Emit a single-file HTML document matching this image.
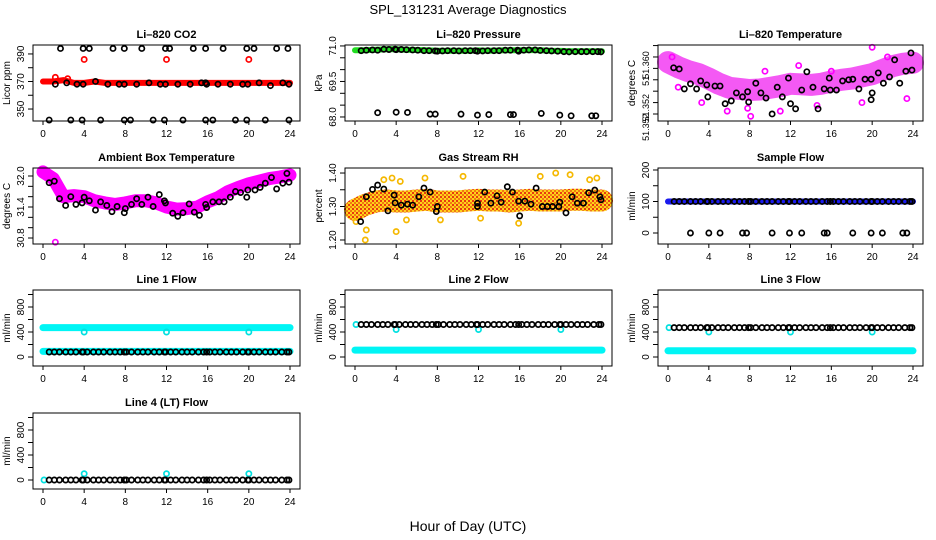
<!DOCTYPE html>
<html><head><meta charset="utf-8"><style>
html,body{margin:0;padding:0;background:#fff;}
svg{display:block;font-family:"Liberation Sans",Arial,sans-serif;}
</style></head><body>
<svg id="chart" width="936" height="540" viewBox="0 0 936 540" xmlns="http://www.w3.org/2000/svg">
<defs>
<pattern id="rhpat" width="4" height="4" patternUnits="userSpaceOnUse"><rect width="4" height="4" fill="#ffd21a"/><rect width="2" height="2" fill="#e83a10"/><rect x="2" y="2" width="2" height="2" fill="#f07a10"/></pattern>
</defs>
<text x="468" y="14" text-anchor="middle" font-size="13">SPL_131231  Average Diagnostics</text>
<text x="468" y="531" text-anchor="middle" font-size="14">Hour of Day (UTC)</text>
</svg>
<script>
// ---- data ----
const hours = [0,1,2,3,4,5,6,7,8,9,10,11,12,13,14,15,16,17,18,19,20,21,22,23,24];
const xTicks = [0,4,8,12,16,20,24];
const denseX = [0.6,1.1,1.6,2.2,2.7,3.2,3.8,3.9,4.3,4.9,5.4,5.9,6.5,7.0,7.5,7.9,8.1,8.6,9.2,9.7,10.2,10.8,11.3,11.8,11.9,12.4,12.9,13.5,14.0,14.5,15.1,15.6,15.9,16.2,16.7,17.2,17.8,18.3,18.8,19.4,19.9,20.0,20.5,21.0,21.6,22.1,22.6,23.2,23.7,23.9];

const co2Band = [370,370,371,369,369,370,369,369,369,369,369,369,369,369,369,369,369,369,369,369,369,369,369,369,369];
const co2HighX = [1.7,3.9,4.5,6.8,7.9,9.6,11.9,12.3,14.6,15.8,17.5,19.8,20.5,22.7,23.8];
const co2LowX = [0.6,2.7,3.8,5.6,7.9,8.5,10.7,11.8,13.6,15.8,16.5,18.7,19.8,21.6,23.9];
const co2MidX = [1.2,2.3,3.3,3.9,5.1,6.3,7.4,7.9,9.1,10.3,11.4,11.9,13.1,14.3,15.4,15.8,15.9,17.0,18.2,19.4,19.9,21.0,22.1,23.3,23.9];
const co2MidY = [368,369,368,368,370,368,368,368,368,369,368,368,368,368,369,369,368,368,368,368,368,369,367,369,368];
const co2RedX = [4,12,20];
const co2RedY = [386,386,386];

const presBand = [70.82,70.82,70.84,70.86,70.86,70.84,70.83,70.82,70.80,70.80,70.80,70.80,70.81,70.80,70.81,70.82,70.82,70.83,70.82,70.80,70.79,70.78,70.78,70.78,70.78];
const presMidX = [0.6,1.1,1.7,2.2,2.8,3.3,3.9,4.0,4.5,5.0,5.6,6.1,6.7,7.2,7.8,8.0,8.5,9.0,9.6,10.1,10.7,11.2,11.7,11.9,12.4,12.9,13.5,14.0,14.6,15.1,15.8,15.9,16.4,16.9,17.5,18.0,18.6,19.1,19.7,20.3,20.8,21.4,22.0,22.5,23.1,23.6,23.9];
const presMidY = [70.80,70.82,70.83,70.82,70.86,70.85,70.86,70.84,70.85,70.84,70.83,70.82,70.80,70.80,70.79,70.78,70.79,70.80,70.80,70.79,70.80,70.80,70.80,70.78,70.79,70.80,70.80,70.80,70.82,70.82,70.82,70.78,70.82,70.83,70.83,70.81,70.80,70.79,70.78,70.76,70.75,70.76,70.76,70.76,70.76,70.76,70.75];
const presLowX = [2.2,4.0,5.1,7.3,7.8,10.3,11.9,13.0,15.1,15.4,18.1,19.9,21.0,23.0,23.4];
const presLowY = [68.18,68.2,68.19,68.12,68.12,68.12,68.08,68.1,68.1,68.1,68.15,68.08,68.05,68.05,68.05];

const ltBand = [51.3591,51.3582,51.3575,51.3570,51.3562,51.3553,51.3546,51.3544,51.3542,51.3543,51.3546,51.3549,51.3553,51.3552,51.3551,51.3553,51.3557,51.3560,51.3562,51.3566,51.3570,51.3577,51.3584,51.3588,51.3590];
const ltBlackX = [0.55,1.1,1.6,2.2,2.8,3.2,3.8,3.9,4.6,5.1,5.6,6.2,6.7,7.3,7.8,7.9,8.6,9.1,9.6,10.2,10.7,11.2,11.8,12.0,12.5,13.1,13.6,14.2,14.7,15.3,15.8,15.9,16.5,17.1,17.7,18.1,18.7,19.3,19.9,19.9,20.0,20.6,21.1,21.7,22.2,22.7,23.3,23.8,23.9];
const ltBlackY = [51.3581,51.3579,51.3544,51.3553,51.3544,51.3558,51.3551,51.3530,51.3549,51.3549,51.3518,51.3523,51.3537,51.3530,51.3539,51.3521,51.3554,51.3537,51.3528,51.3500,51.3547,51.3530,51.3563,51.3518,51.3509,51.3542,51.3574,51.3547,51.3509,51.3544,51.3563,51.3542,51.3542,51.3558,51.3560,51.3561,51.3544,51.3561,51.3561,51.3525,51.3537,51.3572,51.3554,51.3565,51.3595,51.3554,51.3575,51.3607,51.3577];
const ltOutX = [0.4,1.0,3.3,5.8,7.8,8.1,9.5,11.0,12.8,14.6,16.0,19.0,20.0,21.5,23.4];
const ltOutY = [51.3600,51.3547,51.3520,51.3505,51.3510,51.3496,51.3575,51.3505,51.3585,51.3515,51.3575,51.3520,51.3617,51.3600,51.3527];

const ambBand = [32.08,31.95,31.60,31.62,31.60,31.52,31.48,31.45,31.48,31.52,31.52,31.48,31.40,31.36,31.37,31.40,31.50,31.58,31.70,31.78,31.85,31.90,31.95,31.98,32.02];
const ambBlackX = [0.6,1.1,1.6,2.2,2.7,3.2,3.8,4.0,4.5,5.1,5.6,6.2,6.7,7.2,7.9,8.0,8.6,9.1,9.6,10.2,10.7,11.3,11.8,11.9,12.6,13.1,13.6,14.2,14.7,15.2,15.8,15.9,16.5,17.1,17.6,18.2,18.7,19.2,19.8,19.9,20.6,21.1,21.6,22.2,22.7,23.3,23.7,23.9];
const ambBlackY = [31.87,31.9,31.56,31.43,31.6,31.45,31.48,31.59,31.52,31.34,31.5,31.43,31.31,31.41,31.29,31.37,31.45,31.56,31.45,31.59,31.41,31.64,31.52,31.48,31.28,31.22,31.29,31.46,31.3,31.24,31.45,31.39,31.5,31.5,31.5,31.59,31.7,31.68,31.59,31.73,31.73,31.78,31.86,31.97,31.75,31.86,32.05,31.88];
const ambOutX = [1.2];
const ambOutY = [30.72];

const rhBand = [1.29,1.305,1.315,1.318,1.315,1.315,1.318,1.32,1.315,1.315,1.315,1.318,1.32,1.318,1.318,1.315,1.318,1.32,1.318,1.318,1.318,1.32,1.32,1.318,1.318];
const rhBlackX = [0.55,1.1,1.7,2.2,2.8,3.2,3.8,3.9,4.5,5.1,5.6,6.2,6.7,7.3,7.9,8.0,11.9,11.9,12.6,13.2,13.8,14.2,14.8,15.3,15.9,16.0,16.5,17.1,17.6,18.2,18.7,19.2,19.8,19.9,20.5,21.1,21.6,22.2,22.7,23.3,23.8,23.9];
const rhBlackY = [1.255,1.329,1.351,1.364,1.352,1.287,1.334,1.311,1.304,1.307,1.304,1.329,1.355,1.343,1.285,1.30,1.31,1.30,1.343,1.31,1.332,1.313,1.359,1.343,1.316,1.272,1.316,1.307,1.355,1.30,1.30,1.30,1.30,1.313,1.281,1.329,1.31,1.31,1.341,1.349,1.329,1.32];
const rhOutX = [0.1,1.0,1.1,2.8,3.6,4.0,4.4,5.0,6.8,8.3,10.5,12.2,15.9,18.0,19.5,20.9,22.8,23.5];
const rhOutY = [1.255,1.20,1.23,1.38,1.385,1.225,1.375,1.26,1.385,1.26,1.39,1.265,1.25,1.39,1.40,1.395,1.38,1.385];

const sampBand = [100,100,100,100,100,100,100,100,100,100,100,100,100,100,100,100,100,100,100,100,100,100,100,100,100];
const sampZeroX = [2.2,4.0,5.1,7.3,7.7,10.2,11.9,13.1,15.3,15.6,18.1,19.9,21.0,23.0,23.4];

const l1Upper = [470,470,470,470,470,470,470,470,470,470,470,470,470,470,470,470,470,470,470,470,470,470,470,470,470];
const l1Lower = [90,90,90,90,90,90,90,90,90,90,90,90,90,90,90,90,90,90,90,90,90,90,90,90,90];
const l1BlackY = 80;
const l1CyanX = [4,12,20];
const l1CyanY = [400,400,400];

const l2Lower = [110,110,110,110,110,110,110,110,110,110,110,110,110,110,110,110,110,110,110,110,110,110,110,110,110];
const l2BlackY = 520;
const l2CyanX = [0.1,4,12,20];
const l2CyanY = [520,440,440,440];

const l3Lower = [100,100,100,100,100,100,100,100,100,100,100,100,100,100,100,100,100,100,100,100,100,100,100,100,100];
const l3BlackY = 470;
const l3CyanX = [0.1,4,12,20];
const l3CyanY = [470,400,400,400];

const l4BlackY = 0;
const l4CyanX = [0.1,4,12,20];
const l4CyanY = [0,100,100,100];

// ---- drawing ----
const NS = 'http://www.w3.org/2000/svg';
const svg = document.getElementById('chart');
function mk(tag, attrs, parent){
  const e = document.createElementNS(NS, tag);
  for (const k in attrs) e.setAttribute(k, attrs[k]);
  (parent || svg).appendChild(e);
  return e;
}
const cols = [{l:33,w:267},{l:345,w:267},{l:658,w:265}];
const rows = [45,168,290,413];
const H = 76;

function panel(id, ci, ri, ymin, ymax, yTicks, yLabels, title, ylab, labelSize){
  const c = cols[ci], top = rows[ri];
  const g = mk('g', {});
  
  
  const p = {g, x: h => c.l + 10 + (c.w - 20) * h / 24, y: v => top + H - (v - ymin) / (ymax - ymin) * H, top, c};
  const t = mk('text', {x: c.l + c.w/2, y: top - 7, 'text-anchor':'middle', 'font-size':11, 'font-weight':'bold'}, g);
  t.textContent = title;
  
  
  const yl = mk('text', {transform:`translate(${c.l-23},${top+H/2}) rotate(-90)`, 'text-anchor':'middle', 'font-size':10}, g);
  yl.textContent = ylab;
  
  
  const xa = mk('g', {}, g);
  
  
  mk('line', {x1:p.x(0), x2:p.x(24), y1:top+H, y2:top+H, stroke:'#000'}, xa);
  xTicks.forEach(v => {
    mk('line', {x1:p.x(v), x2:p.x(v), y1:top+H, y2:top+H+4, stroke:'#000'}, xa);
    const tl = mk('text', {x:p.x(v), y:top+H+16, 'text-anchor':'middle', 'font-size':10}, xa);
    tl.textContent = v;
  });
  const ya = mk('g', {}, g);
  
  
  yTicks.forEach(v => mk('line', {x1:c.l-5, x2:c.l, y1:p.y(v), y2:p.y(v), stroke:'#000'}, ya));
  yLabels.forEach(([v, s]) => {
    const tl = mk('text', {transform:`translate(${c.l-9},${p.y(v)}) rotate(-90)`, 'text-anchor':'middle', 'font-size':labelSize || 10}, ya);
    tl.textContent = s;
  });
  p.plot = mk('g', {}, g);
  
  
  p.finish = () => {
    const b = mk('rect', {x:c.l, y:top, width:c.w, height:H, fill:'none', stroke:'#000'}, g);
    
    
  };
  return p;
}
function band(p, xs, ys, color, width, name, op){
  const pts = xs.map((h,i) => p.x(h).toFixed(1) + ',' + p.y(ys[i]).toFixed(1)).join(' ');
  const e = mk('polyline', {points:pts, fill:'none', stroke:color, 'stroke-width':width, 'stroke-linecap':'round', 'stroke-linejoin':'round', 'stroke-opacity': op || 1}, p.plot);
  
  
}
function pts(p, xs, ys, color, name){
  const g = mk('g', {}, p.plot);
  
  
  xs.forEach((h,i) => {
    const yv = Array.isArray(ys) ? ys[i] : ys;
    mk('circle', {cx:p.x(h), cy:p.y(yv), r:2.6, fill:'none', stroke:color, 'stroke-width':1.7}, g);
  });
}
function rng(a,b,s){ const r=[]; for(let v=a; v<=b+1e-9; v+=s) r.push(+v.toFixed(4)); return r; }

let p = panel('co2', 0, 0, 341.3, 396.5, rng(350,390,10), [[350,'350'],[370,'370'],[390,'390']], 'Li–820 CO2', 'Licor ppm');
band(p, hours, co2Band, '#ff0000', 6, 'co2-series');
pts(p, [1.2,2.4], [373,372], '#ff0000', 'co2-red-spikes');
pts(p, co2RedX, co2RedY, '#ff0000', 'co2-red-outliers');
pts(p, co2HighX, 394, '#000', 'co2-cal-high');
pts(p, co2LowX, 342, '#000', 'co2-cal-low');
pts(p, co2MidX, co2MidY, '#000', 'co2-average');
p.finish();

p = panel('pressure', 1, 0, 67.83, 71.04, rng(68,71,0.5), [[68,'68.0'],[69.5,'69.5'],[71,'71.0']], 'Li–820 Pressure', 'kPa');
band(p, hours, presBand, '#22dd22', 6, 'pressure-series');
pts(p, presMidX, presMidY, '#000', 'pressure-average');
pts(p, presLowX, presLowY, '#000', 'pressure-low');
p.finish();

p = panel('li820-temp', 2, 0, 51.34877, 51.3621, rng(51.350,51.362,0.002), [[51.3586,'51.360'],[51.3558,'51'],[51.3511,'51.352'],[51.3477,'51.352']], 'Li–820 Temperature', 'degrees C', 9);
band(p, hours, ltBand, '#f23cf2', 22, 'li820-temp-series', 0.85);
pts(p, ltOutX, ltOutY, '#ff00ff', 'li820-temp-scatter');
pts(p, ltBlackX, ltBlackY, '#000', 'li820-temp-average');
p.finish();

p = panel('ambient-temp', 0, 1, 30.684, 32.155, rng(30.8,32.0,0.2), [[30.8,'30.8'],[31.4,'31.4'],[32.0,'32.0']], 'Ambient Box Temperature', 'degrees C');
band(p, hours, ambBand, '#ff00ff', 13, 'ambient-temp-series');
pts(p, ambOutX, ambOutY, '#ff00ff', 'ambient-temp-outlier');
pts(p, ambBlackX, ambBlackY, '#000', 'ambient-temp-average');
p.finish();

p = panel('rh', 1, 1, 1.188, 1.415, rng(1.2,1.4,0.05), [[1.2,'1.20'],[1.3,'1.30'],[1.4,'1.40']], 'Gas Stream RH', 'percent');
band(p, hours, rhBand, 'url(#rhpat)', 22, 'rh-series');
pts(p, rhOutX, rhOutY, '#f5b800', 'rh-scatter');
pts(p, rhBlackX, rhBlackY, '#000', 'rh-average');
p.finish();

p = panel('sample-flow', 2, 1, -34.9, 206.3, rng(0,200,50), [[0,'0'],[100,'100'],[200,'200']], 'Sample Flow', 'ml/min');
band(p, hours, sampBand, '#1a1aee', 6, 'sample-flow-series');
pts(p, denseX, 100, '#000', 'sample-flow-average');
pts(p, sampZeroX, 0, '#000', 'sample-flow-zero');
p.finish();

const flowTicks = rng(0,1000,200), flowLabels = [[0,'0'],[400,'400'],[800,'800']];
p = panel('line1-flow', 0, 2, -144, 1072, flowTicks, flowLabels, 'Line 1 Flow', 'ml/min');
band(p, hours, l1Upper, '#00f5f5', 7, 'line1-upper-series');
band(p, hours, l1Lower, '#00f5f5', 7, 'line1-lower-series');
pts(p, denseX, l1BlackY, '#000', 'line1-average');
pts(p, l1CyanX, l1CyanY, '#00e0e0', 'line1-cyan-outliers');
p.finish();

p = panel('line2-flow', 1, 2, -144, 1072, flowTicks, flowLabels, 'Line 2 Flow', 'ml/min');
band(p, hours, l2Lower, '#00f5f5', 7, 'line2-lower-series');
pts(p, l2CyanX, l2CyanY, '#00e0e0', 'line2-cyan-points');
pts(p, denseX, l2BlackY, '#000', 'line2-average');
p.finish();

p = panel('line3-flow', 2, 2, -144, 1072, flowTicks, flowLabels, 'Line 3 Flow', 'ml/min');
band(p, hours, l3Lower, '#00f5f5', 7, 'line3-lower-series');
pts(p, l3CyanX, l3CyanY, '#00e0e0', 'line3-cyan-points');
pts(p, denseX, l3BlackY, '#000', 'line3-average');
p.finish();

p = panel('line4-flow', 0, 3, -144, 1072, flowTicks, flowLabels, 'Line 4 (LT) Flow', 'ml/min');
pts(p, l4CyanX, l4CyanY, '#00e0e0', 'line4-cyan-points');
pts(p, denseX, l4BlackY, '#000', 'line4-average');
p.finish();
</script>
</body></html>
